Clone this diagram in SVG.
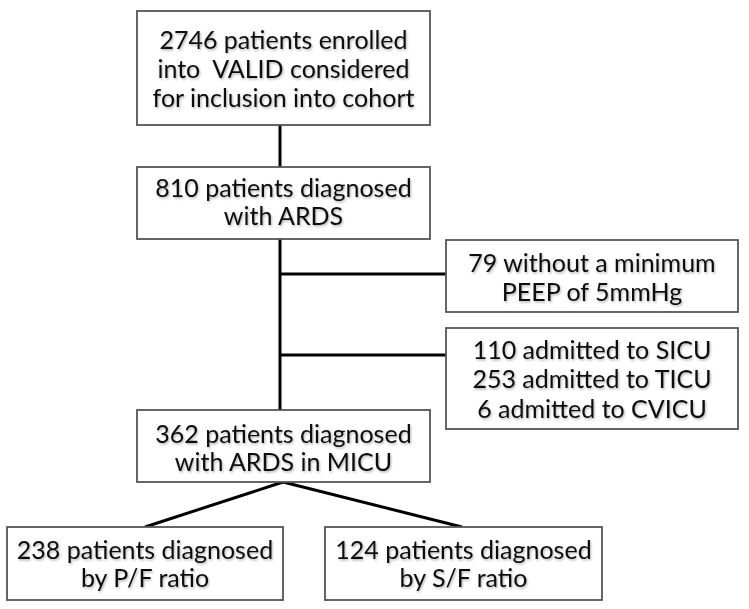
<svg xmlns="http://www.w3.org/2000/svg" width="749" height="609" viewBox="0 0 749 609">
<defs>
<filter id="sh" x="-5%" y="-20%" width="110%" height="140%">
<feDropShadow dx="1" dy="1.5" stdDeviation="1" flood-color="#000" flood-opacity="0.3"/>
</filter>
</defs>
<style>
.box{fill:#fff;stroke:#555;stroke-width:1.8}
.t{font-family:Lato,"Open Sans",sans-serif;font-size:25px;fill:#111;text-anchor:middle}
.c{stroke:#000;stroke-width:3;fill:none}
</style>
<rect width="749" height="609" fill="#fff"/>
<g id="connectors">
<line class="c" x1="280" y1="125" x2="280" y2="167"/>
<line class="c" x1="280" y1="239" x2="280" y2="410"/>
<line class="c" x1="280" y1="274" x2="446" y2="274"/>
<line class="c" x1="280" y1="355" x2="446" y2="355"/>
<line class="c" x1="283" y1="482" x2="145" y2="527"/>
<line class="c" x1="283" y1="482" x2="462" y2="527"/>
</g>
<g id="n1">
<rect class="box" x="137" y="11" width="293" height="114"/>
<text class="t" filter="url(#sh)"><tspan x="283.5" y="49">2746 patients enrolled</tspan><tspan x="283.5" y="78">into&#160; VALID considered</tspan><tspan x="283.5" y="107">for inclusion into cohort</tspan></text>
</g>
<g id="n2">
<rect class="box" x="137" y="167" width="293" height="72"/>
<text class="t" filter="url(#sh)"><tspan x="283.5" y="197">810 patients diagnosed</tspan><tspan x="283.5" y="225">with ARDS</tspan></text>
</g>
<g id="n3">
<rect class="box" x="446" y="240" width="292" height="72"/>
<text class="t" filter="url(#sh)"><tspan x="592" y="272">79 without a minimum</tspan><tspan x="592" y="301">PEEP of 5mmHg</tspan></text>
</g>
<g id="n4">
<rect class="box" x="446" y="328" width="292" height="101"/>
<text class="t" filter="url(#sh)"><tspan x="592" y="359">110 admitted to SICU</tspan><tspan x="592" y="388">253 admitted to TICU</tspan><tspan x="592" y="418">6 admitted to CVICU</tspan></text>
</g>
<g id="n5">
<rect class="box" x="137" y="410" width="293" height="72"/>
<text class="t" filter="url(#sh)"><tspan x="283.5" y="443">362 patients diagnosed</tspan><tspan x="283.5" y="471">with ARDS in MICU</tspan></text>
</g>
<g id="n6">
<rect class="box" x="7" y="527" width="276" height="73"/>
<text class="t" filter="url(#sh)"><tspan x="145" y="559">238 patients diagnosed</tspan><tspan x="145" y="587">by P/F ratio</tspan></text>
</g>
<g id="n7">
<rect class="box" x="325" y="527" width="277" height="73"/>
<text class="t" filter="url(#sh)"><tspan x="463.5" y="559">124 patients diagnosed</tspan><tspan x="463.5" y="587">by S/F ratio</tspan></text>
</g>
</svg>
